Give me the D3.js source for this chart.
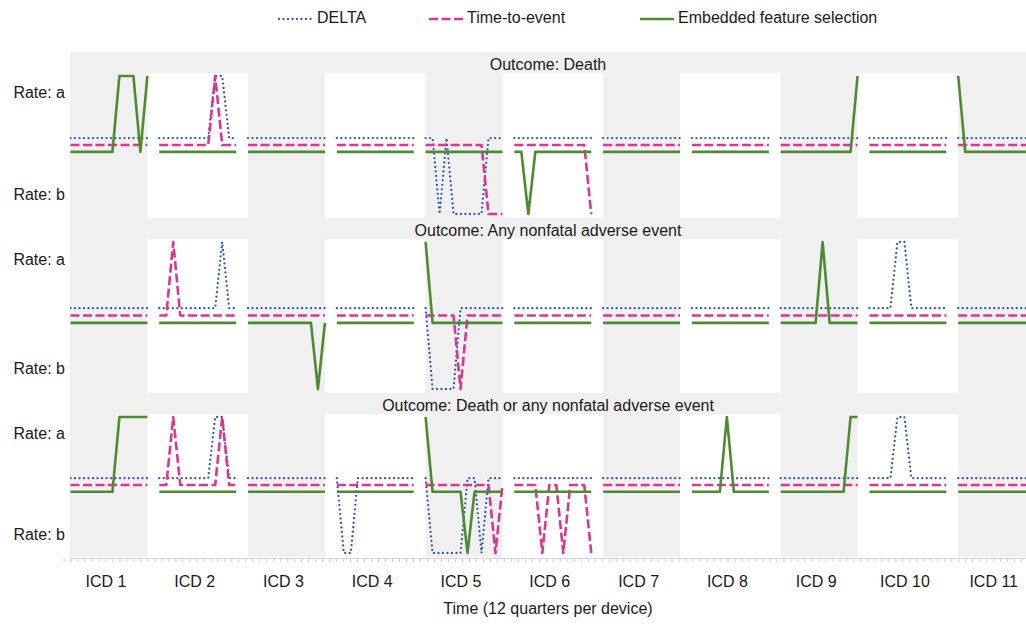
<!DOCTYPE html>
<html>
<head>
<meta charset="utf-8">
<script src="https://cdn.jsdelivr.net/npm/d3@7"></script>
<style>
  body { margin: 0; background: #fff; }
  text { font-family: "Liberation Sans", Arial, sans-serif; fill: #1a1a1a; }
</style>
</head>
<body>
<svg id="chart" width="1026" height="624"></svg>
<script>
    // categories
    var devices = ["ICD 1", "ICD 2", "ICD 3", "ICD 4", "ICD 5", "ICD 6", "ICD 7", "ICD 8", "ICD 9", "ICD 10", "ICD 11"];
    var outcomes = ["Outcome: Death", "Outcome: Any nonfatal adverse event", "Outcome: Death or any nonfatal adverse event"];
    var methods = ["DELTA", "Time-to-event", "Embedded feature selection"];
    var rateLabels = ["Rate: a", "Rate: b"];

    // state per quarter (12 per device): "0" = no signal, "a" = rate a, "b" = rate b
    var deathDelta = ["000000000000", "00000000aa00", "000000000000", "000000000000", "00b0bbbbb000", "000000000000",
                      "000000000000", "000000000000", "000000000000", "000000000000", "000000000000"];
    var deathTte = ["000000000000", "00000000a000", "000000000000", "000000000000", "000000000bbb", "00000000000b",
                    "000000000000", "000000000000", "000000000000", "000000000000", "000000000000"];
    var deathEfs = ["0000000aaa0a", "000000000000", "000000000000", "000000000000", "000000000000", "00b000000000",
                    "000000000000", "000000000000", "00000000000a", "000000000000", "a00000000000"];

    var nonfatalDelta = ["000000000000", "000000000a00", "000000000000", "000000000000", "0bbbb0000000", "000000000000",
                         "000000000000", "000000000000", "000000000000", "0000aa000000", "000000000000"];
    var nonfatalTte = ["000000000000", "00a000000000", "000000000000", "000000000000", "00000b000000", "000000000000",
                       "000000000000", "000000000000", "000000000000", "000000000000", "000000000000"];
    var nonfatalEfs = ["000000000000", "000000000000", "0000000000b0", "000000000000", "a00000000000", "000000000000",
                       "000000000000", "000000000000", "000000a00000", "000000000000", "000000000000"];

    var combinedDelta = ["000000000000", "00000000aa00", "000000000000", "0bb000000000", "0bbbbb00b000", "000000000000",
                         "000000000000", "000000000000", "000000000000", "0000aa000000", "000000000000"];
    var combinedTte = ["000000000000", "00a000000a00", "000000000000", "000000000000", "0000000000b0", "0000b00b000b",
                       "000000000000", "000000000000", "000000000000", "000000000000", "000000000000"];
    var combinedEfs = ["0000000aaaaa", "000000000000", "000000000000", "000000000000", "a00000b00000", "000000000000",
                       "000000000000", "00000a000000", "0000000000aa", "000000000000", "000000000000"];

    var panelData = [
        [deathDelta, deathTte, deathEfs],
        [nonfatalDelta, nonfatalTte, nonfatalEfs],
        [combinedDelta, combinedTte, combinedEfs]
    ];

    // styles
    var methodStyle = [
        { color: "#2f57a6", width: 2.3, dash: "0 4.5", cap: "round", offset: 0.1 },
        { color: "#d8388f", width: 2.6, dash: "9 3.5", cap: "butt", offset: 0 },
        { color: "#4f8a32", width: 2.6, dash: null, cap: "butt", offset: -0.1 }
    ];

    var svg = d3.select("#chart"),
        plotLeft = 70,
        plotRight = 1026,
        plotTop = 52,
        plotBottom = 557,
        panelTops = [52, 218, 393],
        panelBottoms = [218, 393, 557],
        stripH = 21,
        devStep = 12.7,
        nQ = 12,
        unit = 6.99;

    var maxPos = (devices.length - 1) * devStep + nQ - 1;
    var x = d3.scaleLinear().domain([0, maxPos]).range([70.5, 70.5 + maxPos * unit]);

    svg.append("defs").append("clipPath").attr("id", "plotClip")
        .append("rect")
        .attr("x", plotLeft).attr("y", plotTop)
        .attr("width", plotRight - plotLeft).attr("height", plotBottom - plotTop + 2);

    // grey background
    svg.append("rect")
        .attr("x", plotLeft).attr("y", plotTop)
        .attr("width", plotRight - plotLeft).attr("height", plotBottom - plotTop)
        .attr("fill", "#f0f0f0");

    var plot = svg.append("g").attr("clip-path", "url(#plotClip)");

    outcomes.forEach(function (outcome, p) {
        var top = panelTops[p] + stripH,
            bottom = panelBottoms[p];
        var y = d3.scaleLinear().domain([-1, 1]).range([bottom - 4, top + 3]);

        // white bands behind even devices
        plot.selectAll(".band-" + p)
            .data(devices.filter(function (d, i) { return i % 2 === 1; }))
            .enter().append("rect")
            .attr("class", "band-" + p)
            .attr("x", function (d) { var i = devices.indexOf(d); return x((i - 1) * devStep + nQ - 1); })
            .attr("y", top)
            .attr("width", function (d) {
                var i = devices.indexOf(d);
                return x((i + 1) * devStep) - x((i - 1) * devStep + nQ - 1);
            })
            .attr("height", bottom - top)
            .attr("fill", "#ffffff");

        // strip title
        svg.append("text")
            .attr("x", (plotLeft + plotRight) / 2)
            .attr("y", panelTops[p] + stripH / 2 + 3)
            .attr("text-anchor", "middle")
            .attr("dominant-baseline", "middle")
            .attr("font-size", 16)
            .text(outcome);

        // rate labels
        svg.selectAll(".rate-" + p)
            .data(rateLabels)
            .enter().append("text")
            .attr("class", "rate-" + p)
            .attr("x", 65)
            .attr("y", function (d, i) { return y(i === 0 ? 0.74 : -0.74); })
            .attr("text-anchor", "end")
            .attr("dominant-baseline", "middle")
            .attr("font-size", 16)
            .text(function (d) { return d; });

        // method lines, one segment per device
        methods.forEach(function (m, k) {
            var st = methodStyle[k];
            var line = d3.line()
                .x(function (d) { return x(d.pos); })
                .y(function (d) { return y(d.state === "a" ? 1 : d.state === "b" ? -1 : st.offset); });
            var segs = panelData[p][k].map(function (s, i) {
                return s.split("").map(function (c, q) { return { pos: i * devStep + q, state: c }; });
            });
            plot.selectAll(".line-" + p + "-" + k)
                .data(segs)
                .enter().append("path")
                .attr("class", "line-" + p + "-" + k)
                .attr("d", line)
                .attr("fill", "none")
                .attr("stroke", st.color)
                .attr("stroke-width", st.width)
                .attr("stroke-linecap", st.cap)
                .attr("stroke-linejoin", "round")
                .attr("stroke-dasharray", st.dash);
        });
    });

    // x axis: quarter ticks
    var tickAxis = d3.axisBottom(x)
        .tickValues(d3.range(-1, maxPos + 1))
        .tickSize(4)
        .tickFormat("");
    var gTicks = svg.append("g")
        .attr("transform", "translate(0," + (plotBottom + 1) + ")")
        .call(tickAxis);
    gTicks.selectAll("line").attr("stroke", "#cfcfcf");
    gTicks.select(".domain").attr("stroke", "#d6d6d6");

    // x axis: device labels
    var labelAxis = d3.axisBottom(x)
        .tickValues(devices.map(function (d, i) { return i * devStep + 5; }))
        .tickFormat(function (d, i) { return devices[i]; })
        .tickSize(0)
        .tickPadding(18);
    var gLabels = svg.append("g")
        .attr("transform", "translate(0," + (plotBottom + 1) + ")")
        .call(labelAxis);
    gLabels.select(".domain").remove();
    gLabels.selectAll("text")
        .attr("font-size", 16)
        .attr("font-family", "Liberation Sans, Arial, sans-serif")
        .attr("fill", "#1a1a1a");

    svg.append("text")
        .attr("x", (plotLeft + plotRight) / 2)
        .attr("y", 614)
        .attr("text-anchor", "middle")
        .attr("font-size", 16)
        .text("Time (12 quarters per device)");

    // legend
    var legendX = [279, 429, 640];
    var legend = svg.selectAll(".legend")
        .data(methods)
        .enter().append("g")
        .attr("class", "legend")
        .attr("transform", function (d, i) { return "translate(" + legendX[i] + ",19)"; });
    legend.append("line")
        .attr("x1", 0).attr("x2", 34)
        .attr("stroke", function (d, i) { return methodStyle[i].color; })
        .attr("stroke-width", function (d, i) { return methodStyle[i].width; })
        .attr("stroke-linecap", function (d, i) { return methodStyle[i].cap; })
        .attr("stroke-dasharray", function (d, i) { return methodStyle[i].dash; });
    legend.append("text")
        .attr("x", 38)
        .attr("dominant-baseline", "middle")
        .attr("font-size", 16)
        .text(function (d) { return d; });
</script>
</body>
</html>
